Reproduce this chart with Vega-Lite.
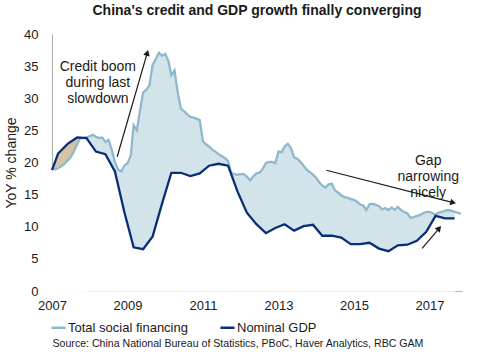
{
  "$schema": "https://vega.github.io/schema/vega-lite/v6.json",
  "width": 410,
  "height": 257,
  "autosize": "none",
  "padding": {"left": 52, "top": 34, "right": 20, "bottom": 63},
  "background": "white",
  "config": {
    "view": {"stroke": null},
    "font": "Liberation Sans",
    "axis": {"zindex": 1, "grid": false, "ticks": false, "domainColor": "#b3b3b3", "domainWidth": 1.2, "labelFont": "Liberation Sans", "labelFontSize": 13, "labelColor": "#1a1a1a", "titleFont": "Liberation Sans", "titleFontWeight": "normal", "titleColor": "#1a1a1a"}
  },
  "title": {"text": "China's credit and GDP growth finally converging", "fontSize": 14, "fontWeight": "bold", "font": "Liberation Sans", "color": "#1a1a1a", "anchor": "middle", "offset": 10},
  "datasets": {
    "series": [
      {"date": "2007-01-01", "series": "Total social financing", "value": 19.2},
      {"date": "2007-02-01", "series": "Total social financing", "value": 18.9},
      {"date": "2007-03-01", "series": "Total social financing", "value": 19.1},
      {"date": "2007-04-01", "series": "Total social financing", "value": 19.4},
      {"date": "2007-05-01", "series": "Total social financing", "value": 19.8},
      {"date": "2007-06-01", "series": "Total social financing", "value": 20.3},
      {"date": "2007-07-01", "series": "Total social financing", "value": 20.8},
      {"date": "2007-08-01", "series": "Total social financing", "value": 21.7},
      {"date": "2007-09-01", "series": "Total social financing", "value": 22.8},
      {"date": "2007-10-01", "series": "Total social financing", "value": 23.8},
      {"date": "2007-11-01", "series": "Total social financing", "value": 23.8},
      {"date": "2007-12-01", "series": "Total social financing", "value": 23.9},
      {"date": "2008-01-01", "series": "Total social financing", "value": 24.1},
      {"date": "2008-02-01", "series": "Total social financing", "value": 24.3},
      {"date": "2008-03-01", "series": "Total social financing", "value": 24.0},
      {"date": "2008-04-01", "series": "Total social financing", "value": 23.8},
      {"date": "2008-05-01", "series": "Total social financing", "value": 23.9},
      {"date": "2008-06-01", "series": "Total social financing", "value": 23.2},
      {"date": "2008-07-01", "series": "Total social financing", "value": 23.5},
      {"date": "2008-08-01", "series": "Total social financing", "value": 22.0},
      {"date": "2008-09-01", "series": "Total social financing", "value": 20.1},
      {"date": "2008-10-01", "series": "Total social financing", "value": 18.9},
      {"date": "2008-11-01", "series": "Total social financing", "value": 18.6},
      {"date": "2008-12-01", "series": "Total social financing", "value": 19.5},
      {"date": "2009-01-01", "series": "Total social financing", "value": 19.9},
      {"date": "2009-02-01", "series": "Total social financing", "value": 21.0},
      {"date": "2009-03-01", "series": "Total social financing", "value": 25.8},
      {"date": "2009-04-01", "series": "Total social financing", "value": 25.0},
      {"date": "2009-05-01", "series": "Total social financing", "value": 28.0},
      {"date": "2009-06-01", "series": "Total social financing", "value": 30.9},
      {"date": "2009-07-01", "series": "Total social financing", "value": 31.3},
      {"date": "2009-08-01", "series": "Total social financing", "value": 32.0},
      {"date": "2009-09-01", "series": "Total social financing", "value": 35.2},
      {"date": "2009-10-01", "series": "Total social financing", "value": 36.1},
      {"date": "2009-11-01", "series": "Total social financing", "value": 37.1},
      {"date": "2009-12-01", "series": "Total social financing", "value": 36.6},
      {"date": "2010-01-01", "series": "Total social financing", "value": 36.9},
      {"date": "2010-02-01", "series": "Total social financing", "value": 35.8},
      {"date": "2010-03-01", "series": "Total social financing", "value": 33.6},
      {"date": "2010-04-01", "series": "Total social financing", "value": 34.3},
      {"date": "2010-05-01", "series": "Total social financing", "value": 31.0},
      {"date": "2010-06-01", "series": "Total social financing", "value": 28.4},
      {"date": "2010-07-01", "series": "Total social financing", "value": 28.0},
      {"date": "2010-08-01", "series": "Total social financing", "value": 27.5},
      {"date": "2010-09-01", "series": "Total social financing", "value": 27.1},
      {"date": "2010-10-01", "series": "Total social financing", "value": 27.0},
      {"date": "2010-11-01", "series": "Total social financing", "value": 26.8},
      {"date": "2010-12-01", "series": "Total social financing", "value": 26.6},
      {"date": "2011-01-01", "series": "Total social financing", "value": 23.3},
      {"date": "2011-02-01", "series": "Total social financing", "value": 22.8},
      {"date": "2011-03-01", "series": "Total social financing", "value": 22.5},
      {"date": "2011-04-01", "series": "Total social financing", "value": 22.0},
      {"date": "2011-05-01", "series": "Total social financing", "value": 21.7},
      {"date": "2011-06-01", "series": "Total social financing", "value": 21.3},
      {"date": "2011-07-01", "series": "Total social financing", "value": 21.0},
      {"date": "2011-08-01", "series": "Total social financing", "value": 20.7},
      {"date": "2011-09-01", "series": "Total social financing", "value": 20.2},
      {"date": "2011-10-01", "series": "Total social financing", "value": 18.4},
      {"date": "2011-11-01", "series": "Total social financing", "value": 18.2},
      {"date": "2011-12-01", "series": "Total social financing", "value": 18.1},
      {"date": "2012-01-01", "series": "Total social financing", "value": 18.2},
      {"date": "2012-02-01", "series": "Total social financing", "value": 18.2},
      {"date": "2012-03-01", "series": "Total social financing", "value": 17.8},
      {"date": "2012-04-01", "series": "Total social financing", "value": 17.2},
      {"date": "2012-05-01", "series": "Total social financing", "value": 17.8},
      {"date": "2012-06-01", "series": "Total social financing", "value": 18.3},
      {"date": "2012-07-01", "series": "Total social financing", "value": 18.4},
      {"date": "2012-08-01", "series": "Total social financing", "value": 19.0},
      {"date": "2012-09-01", "series": "Total social financing", "value": 19.9},
      {"date": "2012-10-01", "series": "Total social financing", "value": 20.1},
      {"date": "2012-11-01", "series": "Total social financing", "value": 20.1},
      {"date": "2012-12-01", "series": "Total social financing", "value": 19.9},
      {"date": "2013-01-01", "series": "Total social financing", "value": 21.7},
      {"date": "2013-02-01", "series": "Total social financing", "value": 21.6},
      {"date": "2013-03-01", "series": "Total social financing", "value": 22.5},
      {"date": "2013-04-01", "series": "Total social financing", "value": 22.9},
      {"date": "2013-05-01", "series": "Total social financing", "value": 22.3},
      {"date": "2013-06-01", "series": "Total social financing", "value": 20.8},
      {"date": "2013-07-01", "series": "Total social financing", "value": 20.6},
      {"date": "2013-08-01", "series": "Total social financing", "value": 20.1},
      {"date": "2013-09-01", "series": "Total social financing", "value": 19.5},
      {"date": "2013-10-01", "series": "Total social financing", "value": 18.9},
      {"date": "2013-11-01", "series": "Total social financing", "value": 18.5},
      {"date": "2013-12-01", "series": "Total social financing", "value": 18.1},
      {"date": "2014-01-01", "series": "Total social financing", "value": 17.6},
      {"date": "2014-02-01", "series": "Total social financing", "value": 16.9},
      {"date": "2014-03-01", "series": "Total social financing", "value": 16.4},
      {"date": "2014-04-01", "series": "Total social financing", "value": 16.1},
      {"date": "2014-05-01", "series": "Total social financing", "value": 16.6},
      {"date": "2014-06-01", "series": "Total social financing", "value": 16.7},
      {"date": "2014-07-01", "series": "Total social financing", "value": 15.7},
      {"date": "2014-08-01", "series": "Total social financing", "value": 15.3},
      {"date": "2014-09-01", "series": "Total social financing", "value": 14.9},
      {"date": "2014-10-01", "series": "Total social financing", "value": 14.6},
      {"date": "2014-11-01", "series": "Total social financing", "value": 14.5},
      {"date": "2014-12-01", "series": "Total social financing", "value": 14.3},
      {"date": "2015-01-01", "series": "Total social financing", "value": 14.2},
      {"date": "2015-02-01", "series": "Total social financing", "value": 13.9},
      {"date": "2015-03-01", "series": "Total social financing", "value": 13.5},
      {"date": "2015-04-01", "series": "Total social financing", "value": 13.3},
      {"date": "2015-05-01", "series": "Total social financing", "value": 12.6},
      {"date": "2015-06-01", "series": "Total social financing", "value": 13.5},
      {"date": "2015-07-01", "series": "Total social financing", "value": 13.6},
      {"date": "2015-08-01", "series": "Total social financing", "value": 13.4},
      {"date": "2015-09-01", "series": "Total social financing", "value": 13.2},
      {"date": "2015-10-01", "series": "Total social financing", "value": 12.7},
      {"date": "2015-11-01", "series": "Total social financing", "value": 12.9},
      {"date": "2015-12-01", "series": "Total social financing", "value": 12.6},
      {"date": "2016-01-01", "series": "Total social financing", "value": 13.0},
      {"date": "2016-02-01", "series": "Total social financing", "value": 12.6},
      {"date": "2016-03-01", "series": "Total social financing", "value": 13.1},
      {"date": "2016-04-01", "series": "Total social financing", "value": 12.6},
      {"date": "2016-05-01", "series": "Total social financing", "value": 12.3},
      {"date": "2016-06-01", "series": "Total social financing", "value": 12.1},
      {"date": "2016-07-01", "series": "Total social financing", "value": 11.4},
      {"date": "2016-08-01", "series": "Total social financing", "value": 11.5},
      {"date": "2016-09-01", "series": "Total social financing", "value": 11.7},
      {"date": "2016-10-01", "series": "Total social financing", "value": 11.8},
      {"date": "2016-11-01", "series": "Total social financing", "value": 12.1},
      {"date": "2016-12-01", "series": "Total social financing", "value": 12.3},
      {"date": "2017-01-01", "series": "Total social financing", "value": 12.3},
      {"date": "2017-02-01", "series": "Total social financing", "value": 12.1},
      {"date": "2017-03-01", "series": "Total social financing", "value": 11.9},
      {"date": "2017-04-01", "series": "Total social financing", "value": 12.2},
      {"date": "2017-05-01", "series": "Total social financing", "value": 12.3},
      {"date": "2017-06-01", "series": "Total social financing", "value": 12.5},
      {"date": "2017-07-01", "series": "Total social financing", "value": 12.6},
      {"date": "2017-08-01", "series": "Total social financing", "value": 12.5},
      {"date": "2017-09-01", "series": "Total social financing", "value": 12.3},
      {"date": "2017-10-01", "series": "Total social financing", "value": 12.2},
      {"date": "2017-11-01", "series": "Total social financing", "value": 12.0},
      {"date": "2007-01-01", "series": "Nominal GDP", "value": 18.8},
      {"date": "2007-03-01", "series": "Nominal GDP", "value": 21.4},
      {"date": "2007-06-01", "series": "Nominal GDP", "value": 22.9},
      {"date": "2007-09-01", "series": "Nominal GDP", "value": 23.9},
      {"date": "2007-12-01", "series": "Nominal GDP", "value": 23.8},
      {"date": "2008-03-01", "series": "Nominal GDP", "value": 21.7},
      {"date": "2008-06-01", "series": "Nominal GDP", "value": 21.3},
      {"date": "2008-09-01", "series": "Nominal GDP", "value": 18.6},
      {"date": "2008-12-01", "series": "Nominal GDP", "value": 12.3},
      {"date": "2009-03-01", "series": "Nominal GDP", "value": 6.8},
      {"date": "2009-06-01", "series": "Nominal GDP", "value": 6.5},
      {"date": "2009-09-01", "series": "Nominal GDP", "value": 8.5},
      {"date": "2009-12-01", "series": "Nominal GDP", "value": 13.6},
      {"date": "2010-03-01", "series": "Nominal GDP", "value": 18.4},
      {"date": "2010-06-01", "series": "Nominal GDP", "value": 18.4},
      {"date": "2010-09-01", "series": "Nominal GDP", "value": 17.9},
      {"date": "2010-12-01", "series": "Nominal GDP", "value": 18.3},
      {"date": "2011-03-01", "series": "Nominal GDP", "value": 19.5},
      {"date": "2011-06-01", "series": "Nominal GDP", "value": 19.8},
      {"date": "2011-09-01", "series": "Nominal GDP", "value": 19.5},
      {"date": "2011-12-01", "series": "Nominal GDP", "value": 15.5},
      {"date": "2012-03-01", "series": "Nominal GDP", "value": 12.2},
      {"date": "2012-06-01", "series": "Nominal GDP", "value": 10.4},
      {"date": "2012-09-01", "series": "Nominal GDP", "value": 9.0},
      {"date": "2012-12-01", "series": "Nominal GDP", "value": 9.8},
      {"date": "2013-03-01", "series": "Nominal GDP", "value": 10.4},
      {"date": "2013-06-01", "series": "Nominal GDP", "value": 9.4},
      {"date": "2013-09-01", "series": "Nominal GDP", "value": 10.1},
      {"date": "2013-12-01", "series": "Nominal GDP", "value": 10.3},
      {"date": "2014-03-01", "series": "Nominal GDP", "value": 8.6},
      {"date": "2014-06-01", "series": "Nominal GDP", "value": 8.6},
      {"date": "2014-09-01", "series": "Nominal GDP", "value": 8.3},
      {"date": "2014-12-01", "series": "Nominal GDP", "value": 7.3},
      {"date": "2015-03-01", "series": "Nominal GDP", "value": 7.3},
      {"date": "2015-06-01", "series": "Nominal GDP", "value": 7.5},
      {"date": "2015-09-01", "series": "Nominal GDP", "value": 6.6},
      {"date": "2015-12-01", "series": "Nominal GDP", "value": 6.2},
      {"date": "2016-03-01", "series": "Nominal GDP", "value": 7.1},
      {"date": "2016-06-01", "series": "Nominal GDP", "value": 7.2},
      {"date": "2016-09-01", "series": "Nominal GDP", "value": 7.8},
      {"date": "2016-12-01", "series": "Nominal GDP", "value": 9.2},
      {"date": "2017-03-01", "series": "Nominal GDP", "value": 11.7},
      {"date": "2017-06-01", "series": "Nominal GDP", "value": 11.3},
      {"date": "2017-09-01", "series": "Nominal GDP", "value": 11.3}
    ],
    "arrows": [
      {"name": "boom", "date": "2008-09-23", "value": 20.9, "date2": "2009-07-11", "value2": 37.06},
      {"name": "gap", "date": "2014-04-09", "value": 18.8, "date2": "2017-08-18", "value2": 13.76},
      {"name": "gdp", "date": "2016-10-22", "value": 6.65, "date2": "2017-04-05", "value2": 9.76}
    ],
    "notes": [
      {"label": "Credit boom\nduring last\nslowdown", "date": "2008-03-20", "value": 34.9},
      {"label": "Gap\nnarrowing\nnicely", "date": "2016-12-20", "value": 20.2}
    ]
  },
  "data": {"name": "series"},
  "encoding": {
    "x": {
      "field": "date", "type": "temporal",
      "scale": {"type": "utc", "domain": [{"year": 2007, "month": 1, "date": 1, "utc": true}, {"year": 2017, "month": 11, "date": 12, "utc": true}]},
      "axis": {
        "values": [{"year": 2007, "utc": true}, {"year": 2009, "utc": true}, {"year": 2011, "utc": true}, {"year": 2013, "utc": true}, {"year": 2015, "utc": true}, {"year": 2017, "utc": true}],
        "format": "%Y", "labelPadding": 8, "labelFlush": false,
        "title": "Source: China National Bureau of Statistics, PBoC, Haver Analytics, RBC GAM",
        "titleFontSize": 10.6, "titleAnchor": "start", "titleAlign": "left", "titleBaseline": "middle", "titleX": 0, "titleY": 52
      }
    },
    "y": {
      "field": "value", "type": "quantitative",
      "scale": {"domain": [0, 40]},
      "axis": {"values": [0, 5, 10, 15, 20, 25, 30, 35, 40], "labelPadding": 14, "title": "YoY % change", "titleFontSize": 14, "titlePadding": 5}
    }
  },
  "layer": [
    {"transform": [{"filter": "datum.series == 'Total social financing' && datum.date <= datetime(2017, 8, 1) || datum.series == 'Total social financing' && utcyear(datum.date) < 2017 || datum.series == 'Total social financing' && utcyear(datum.date) == 2017 && utcmonth(datum.date) <= 8"}], "mark": {"type": "area", "color": "#d2e3ea"}},
    {"transform": [{"filter": "datum.series == 'Nominal GDP'"}], "mark": {"type": "area", "color": "#ffffff", "stroke": "#ffffff", "strokeWidth": 1.5}},
    {"transform": [{"filter": "datum.series == 'Nominal GDP' && utcyear(datum.date) == 2007"}], "mark": {"type": "area", "color": "#d5c4a1"}},
    {"transform": [{"filter": "datum.series == 'Total social financing' && utcyear(datum.date) == 2007"}], "mark": {"type": "area", "color": "#ffffff", "stroke": "#ffffff", "strokeWidth": 1.5}},
    {
      "mark": {"type": "line", "strokeWidth": 2.3},
      "encoding": {
        "color": {
          "field": "series", "type": "nominal",
          "scale": {"domain": ["Total social financing", "Nominal GDP"], "range": ["#8fb8cc", "#0a2d78"]},
          "legend": {"title": null, "orient": "none", "legendX": -2, "legendY": 285, "direction": "horizontal", "symbolType": "stroke", "symbolSize": 200, "symbolStrokeWidth": 2.5, "labelFontSize": 13, "labelFont": "Liberation Sans", "labelColor": "#1a1a1a", "labelOffset": 1, "columnPadding": 27}
        },
        "order": {"field": "series", "sort": "descending"}
      }
    },
    {
      "data": {"name": "arrows"},
      "mark": {"type": "rule", "color": "#1a1a1a", "strokeWidth": 1.2},
      "encoding": {
        "x": {"field": "date", "type": "temporal"},
        "y": {"field": "value", "type": "quantitative"},
        "x2": {"field": "date2"},
        "y2": {"field": "value2"}
      }
    },
    {
      "data": {"name": "arrows"},
      "transform": [{"filter": "datum.name == 'boom'"}],
      "mark": {"type": "point", "shape": "triangle-up", "filled": true, "color": "#1a1a1a", "size": 45, "angle": 16, "opacity": 1},
      "encoding": {"x": {"field": "date2", "type": "temporal"}, "y": {"field": "value2", "type": "quantitative"}}
    },
    {
      "data": {"name": "arrows"},
      "transform": [{"filter": "datum.name == 'gap'"}],
      "mark": {"type": "point", "shape": "triangle-up", "filled": true, "color": "#1a1a1a", "size": 45, "angle": 104, "opacity": 1},
      "encoding": {"x": {"field": "date2", "type": "temporal"}, "y": {"field": "value2", "type": "quantitative"}}
    },
    {
      "data": {"name": "arrows"},
      "transform": [{"filter": "datum.name == 'gdp'"}],
      "mark": {"type": "point", "shape": "triangle-up", "filled": true, "color": "#1a1a1a", "size": 45, "angle": 40, "opacity": 1},
      "encoding": {"x": {"field": "date2", "type": "temporal"}, "y": {"field": "value2", "type": "quantitative"}}
    },
    {
      "data": {"name": "notes"},
      "mark": {"type": "text", "lineBreak": "\n", "lineHeight": 16, "fontSize": 14, "font": "Liberation Sans", "color": "#1a1a1a", "align": "center", "baseline": "middle"},
      "encoding": {"x": {"field": "date", "type": "temporal"}, "y": {"field": "value", "type": "quantitative"}, "text": {"field": "label"}}
    }
  ]
}
